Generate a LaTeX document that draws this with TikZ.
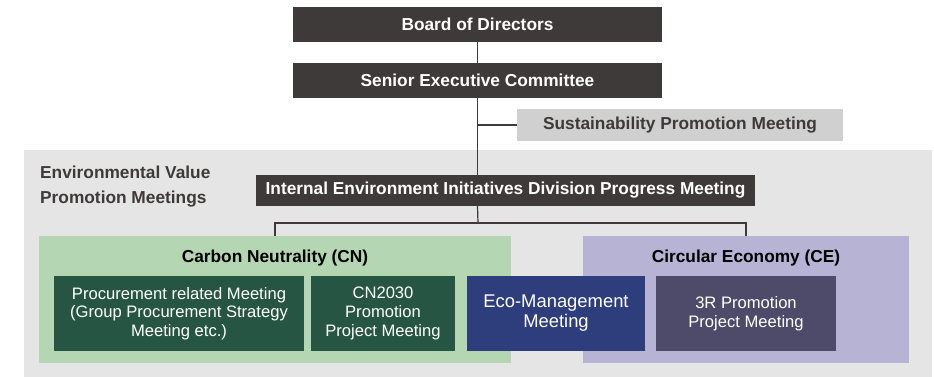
\documentclass[tikz,border=0pt]{standalone}
\usepackage{fontspec}
\setmainfont{Liberation Sans}
\usepackage{xcolor}
\usepackage{tikz}
\usetikzlibrary{positioning}

\definecolor{darkbox}{HTML}{3E3A39}
\definecolor{sustgray}{HTML}{D0D0D0}
\definecolor{bggray}{HTML}{E5E5E5}
\definecolor{cnlight}{HTML}{B5D6B2}
\definecolor{cndark}{HTML}{265643}
\definecolor{celight}{HTML}{B6B3D5}
\definecolor{cedark}{HTML}{4E4A6A}
\definecolor{econavy}{HTML}{2E3D7B}

\begin{document}
\begin{tikzpicture}[
    x=1pt, y=-1pt,
    headbox/.style={fill=darkbox, text=white, inner sep=0pt, font=\fontsize{17.3}{20}\selectfont\bfseries},
    unitbox/.style={text=white, inner sep=0pt, minimum height=75pt, align=center, font=\fontsize{16.6}{18.6}\selectfont},
    areabox/.style={inner sep=0pt, minimum height=127pt},
    areatitle/.style={text=black, inner sep=0pt, font=\fontsize{17.3}{20}\selectfont\bfseries},
    link/.style={draw=darkbox, line width=1.2pt}
]
    \useasboundingbox (0,0) rectangle (934,377);

    % background area
    \fill[bggray] (24,150) rectangle (932,377);

    \node[headbox, minimum width=369pt, minimum height=35pt] (board) at (477.5,24.5) {Board of Directors};
    \node[headbox, minimum width=369pt, minimum height=35pt] (senior) at (477.5,80.5) {Senior Executive Committee};
    \node[fill=sustgray, text=darkbox, inner sep=0pt, minimum width=326pt, minimum height=32pt,
          font=\fontsize{17.3}{20}\selectfont\bfseries] (sust) at (680,125) {Sustainability Promotion Meeting};

    \node[anchor=north west, align=left, text=darkbox, inner sep=0pt,
          font=\fontsize{17.3}{24.7}\selectfont\bfseries] (envlabel) at (40,166) {Environmental Value\\Promotion Meetings};
    \node[headbox, minimum width=499pt, minimum height=31pt] (iei) at (505.5,190.5) {Internal Environment Initiatives Division Progress Meeting};

    % CN / CE areas
    \node[areabox, fill=cnlight, minimum width=472pt] (cn) at (275,299.5) {};
    \node[areabox, fill=celight, minimum width=326pt] (ce) at (746,299.5) {};
    \node[areatitle] (cntitle) at (275,258) {Carbon Neutrality (CN)};
    \node[areatitle] (cetitle) at (746,258) {Circular Economy (CE)};

    \node[unitbox, fill=cndark, minimum width=250pt] (procure) at (179,313.5) {Procurement related Meeting\\(Group Procurement Strategy\\Meeting etc.)};
    \node[unitbox, fill=cndark, minimum width=144pt] (cn2030) at (383,313.5) {CN2030\\Promotion\\Project Meeting};
    \node[unitbox, fill=econavy, minimum width=178pt, font=\fontsize{18.4}{20}\selectfont] (eco) at (556,313.5) {Eco-Management\\Meeting};
    \node[unitbox, fill=cedark, minimum width=180pt] (threer) at (746,313.5) {3R Promotion\\Project Meeting};

    % connectors
    \coordinate (bar) at (478,223);
    \draw[link] (board) -- (senior);
    \draw[link] (senior.south) -- (senior.south |- iei.north);
    \draw[link] (senior.south |- sust.west) -- (sust.west);
    \draw[link] (senior.south |- iei.south) -- (bar);
    \draw[link] (cn.north) |- (bar) -| (ce.north);

\end{tikzpicture}
\end{document}
